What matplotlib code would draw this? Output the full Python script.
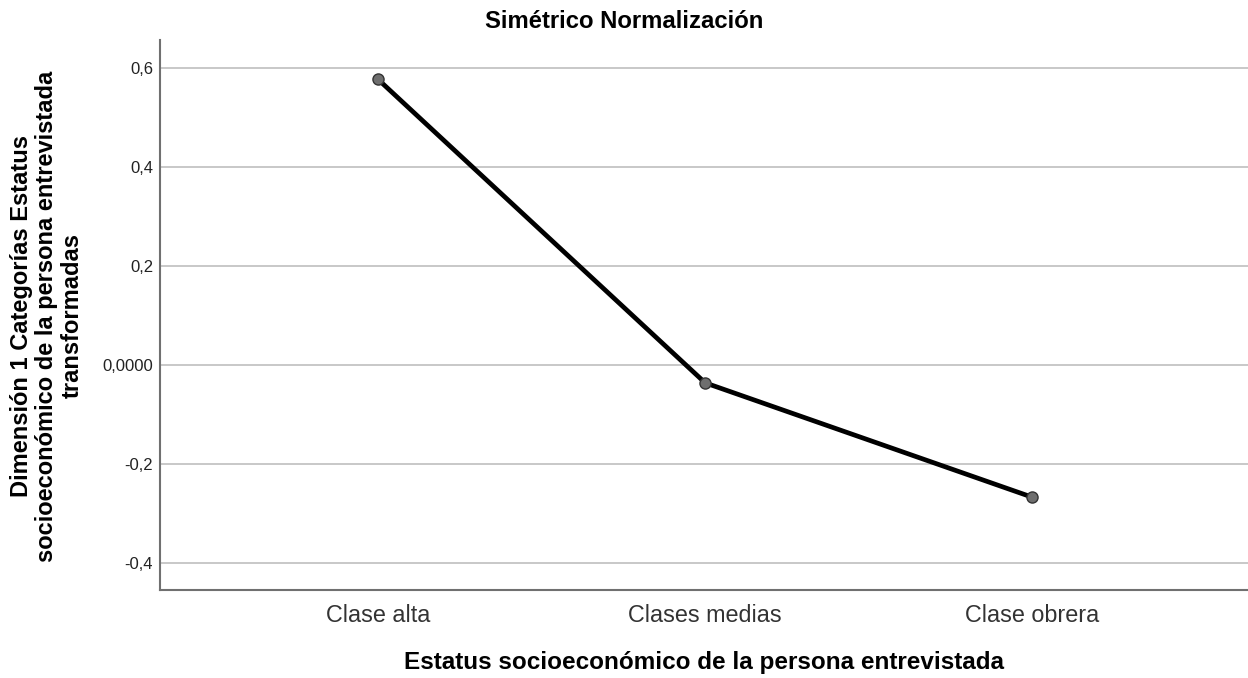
import matplotlib
matplotlib.use('Agg')
import matplotlib.pyplot as plt

plt.rcParams['font.family'] = ['Liberation Sans', 'DejaVu Sans']

# category quantifications
categories = ['Clase alta', 'Clases medias', 'Clase obrera']
dim1 = [0.577, -0.036, -0.267]

yticks = [-0.4, -0.2, 0.0, 0.2, 0.4, 0.6]
ytick_labels = ['-0,4', '-0,2', '0,0000', '0,2', '0,4', '0,6']

fig = plt.figure(figsize=(12.48, 6.78), dpi=100)
ax = fig.add_axes([160 / 1248, 88 / 678, 1088 / 1248, 550 / 678])

x = list(range(len(categories)))
ax.plot(x, dim1, color='black', lw=3.4, zorder=3,
        marker='o', markersize=8, markerfacecolor='#6e6e6e',
        markeredgecolor='#333333', markeredgewidth=1.0)

ax.set_xlim(-0.667, 2.66)
ax.set_ylim(-0.4545, 0.6566)
ax.set_xticks(x)
ax.set_xticklabels(categories, fontsize=16.8, color='#333333')
ax.set_yticks(yticks)
ax.set_yticklabels(ytick_labels, fontsize=12, color='#222222')
ax.tick_params(axis='both', length=0)
ax.tick_params(axis='x', pad=10)
ax.tick_params(axis='y', pad=5)

ax.grid(True, axis='y', color='#c8c8c8', lw=1.4, zorder=0)
ax.set_axisbelow(True)
for side in ('top', 'right'):
    ax.spines[side].set_visible(False)
for side in ('left', 'bottom'):
    ax.spines[side].set_color('#707070')
    ax.spines[side].set_linewidth(1.5)

ax.set_xlabel('Estatus socioeconómico de la persona entrevistada',
              fontsize=17.5, fontweight='bold', labelpad=17)
fig.text(47 / 1248, 1 - 316 / 678,
         'Dimensión 1 Categorías Estatus\nsocioeconómico de la persona entrevistada\ntransformadas',
         rotation=90, ha='center', va='center', fontsize=17, fontweight='bold',
         linespacing=1.12)
fig.text(0.5, 1 - 22 / 678, 'Simétrico Normalización',
         ha='center', va='center', fontsize=17.2, fontweight='bold')

fig.savefig('out.png', dpi=100)
